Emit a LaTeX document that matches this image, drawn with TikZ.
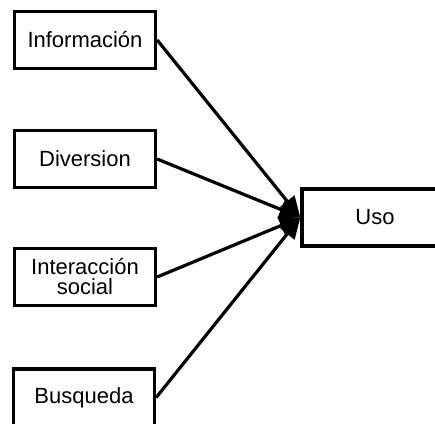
\documentclass[tikz,border=0pt]{standalone}
\usepackage{fontspec}
\setmainfont{Liberation Sans}
\usetikzlibrary{arrows.meta}
\begin{document}
\begin{tikzpicture}[x=1pt,y=-1pt,
  box/.style={draw=black, line width=3.3pt, fill=white, minimum width=141pt,
    minimum height=57pt, inner sep=0pt, align=center,
    font=\fontsize{22}{20}\selectfont},
  link/.style={line width=3.2pt, -{Triangle[length=21pt,width=18pt]}}]
  \useasboundingbox (0,0) rectangle (435,423);
  \clip (0,0) rectangle (435,423);
  \fill[white] (0,0) rectangle (435,423);
  % sources on the left
  \node[box] (info)  at (85,40)    {Información};
  \node[box] (div)   at (85,159)   {Diversion};
  \node[box] (inter) at (85,277)   {Interacción\\social};
  \node[box] (busq)  at (84,397.5) {Busqueda};
  % target on the right
  \node[box, minimum width=146pt] (uso) at (375,217.5) {Uso};
  % connectors
  \draw[link] (info.east)  -- (uso.west);
  \draw[link] (div.east)   -- (uso.west);
  \draw[link] (inter.east) -- (uso.west);
  \draw[link] (busq.east)  -- (uso.west);
\end{tikzpicture}
\end{document}
